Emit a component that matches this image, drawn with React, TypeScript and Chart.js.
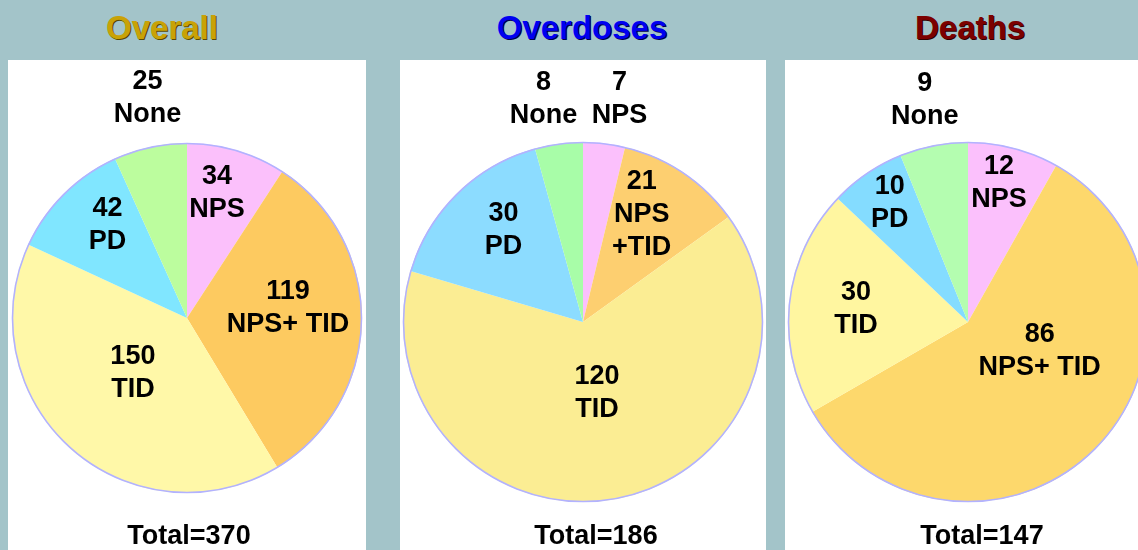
import React, { useEffect, useRef } from "react";
import { Chart, registerables } from "chart.js";

Chart.register(...registerables);

// ---- data ----
const categories = ["NPS", "NPS+ TID", "TID", "PD", "None"];
const overallValues = [34, 119, 150, 42, 25];
const overdoseValues = [7, 21, 120, 30, 8];
const deathValues = [12, 86, 30, 10, 9];
const overallLabels = ["NPS", "NPS+ TID", "TID", "PD", "None"];
const overdoseLabels = ["NPS", "NPS\n+TID", "TID", "PD", "None"];
const deathLabels = ["NPS", "NPS+ TID", "TID", "PD", "None"];
const chartTitles = ["Overall", "Overdoses", "Deaths"];

// ---- styles / placement ----
const FONT = '"Liberation Sans", Arial, Helvetica, sans-serif';
const BG = "#a3c4c9";

type PanelCfg = {
  title: string;
  titleColor: string;
  titleShadow: string;
  titleX: number;
  totalX: number;
  left: number;
  width: number;
  padding: { left: number; right: number; top: number; bottom: number };
  values: number[];
  labels: string[];
  colors: string[];
  placement: [number, number][]; // [radius fraction, angle offset deg]
};

const panels: PanelCfg[] = [
  {
    title: chartTitles[0],
    titleColor: "#c9a206",
    titleShadow: "1px 1px 0 #5a4a00",
    titleX: 162,
    totalX: 189,
    left: 8,
    width: 358,
    padding: { left: 4, right: 4, top: 83, bottom: 57 },
    values: overallValues,
    labels: overallLabels,
    colors: ["#fbc0fb", "#fdca60", "#fff8a8", "#80e6ff", "#bcfd9e"],
    placement: [
      [0.732, -3],
      [0.58, -6.7],
      [0.44, 2.8],
      [0.7, 4.3],
      [1.277, 2],
    ],
  },
  {
    title: chartTitles[1],
    titleColor: "#0000f0",
    titleShadow: "1px 1px 0 #00004a",
    titleX: 582,
    totalX: 596,
    left: 400,
    width: 366,
    padding: { left: 3, right: 3, top: 82, bottom: 48 },
    values: overdoseValues,
    labels: overdoseLabels,
    colors: ["#fbc0fc", "#fdcf70", "#fbed93", "#8cdcff", "#a8fda8"],
    placement: [
      [1.255, 2.5],
      [0.68, -5.2],
      [0.4, -1.5],
      [0.675, 3.7],
      [1.258, -2.3],
    ],
  },
  {
    title: chartTitles[2],
    titleColor: "#7c0000",
    titleShadow: "1px 1px 0 #300000",
    titleX: 970,
    totalX: 982,
    left: 785,
    width: 366,
    padding: { left: 3, right: 3, top: 82, bottom: 48 },
    values: deathValues,
    labels: deathLabels,
    colors: ["#fbc0fc", "#fdd86c", "#fff6a0", "#84dcff", "#b4fdb0"],
    placement: [
      [0.79, -2.1],
      [0.43, -22.6],
      [0.626, 0],
      [0.79, 0.9],
      [1.257, 0],
    ],
  },
];

const PANEL_TOP = 60;
const PANEL_H = 490;

function PiePanel({ cfg }: { cfg: PanelCfg }) {
  const ref = useRef<HTMLCanvasElement | null>(null);

  useEffect(() => {
    if (!ref.current) return;
    const outlinePlugin = {
      id: "outlineAndLabels",
      afterDatasetsDraw(chart: any) {
        const ctx = chart.ctx as CanvasRenderingContext2D;
        const meta = chart.getDatasetMeta(0);
        const arcs = meta.data as any[];
        if (!arcs.length) return;
        const a0 = arcs[0];
        // outline
        ctx.save();
        ctx.beginPath();
        ctx.arc(a0.x, a0.y, a0.outerRadius - 0.5, 0, Math.PI * 2);
        ctx.strokeStyle = "#b2b2ff";
        ctx.lineWidth = 1.6;
        ctx.stroke();
        ctx.restore();
        // labels
        ctx.save();
        ctx.font = `bold 27px ${FONT}`;
        ctx.fillStyle = "#000";
        ctx.textAlign = "center";
        ctx.textBaseline = "middle";
        const lh = 33;
        arcs.forEach((arc, i) => {
          const [frac, off] = cfg.placement[i];
          const mid = (arc.startAngle + arc.endAngle) / 2 + (off * Math.PI) / 180;
          const r = frac * arc.outerRadius;
          const px = arc.x + Math.cos(mid) * r;
          const py = arc.y + Math.sin(mid) * r;
          const lines = [String(cfg.values[i]), ...cfg.labels[i].split("\n")];
          lines.forEach((ln, j) => {
            ctx.fillText(ln, px, py + (j - (lines.length - 1) / 2) * lh);
          });
        });
        ctx.restore();
      },
    };

    const chart = new Chart(ref.current, {
      type: "pie",
      data: {
        labels: categories,
        datasets: [
          {
            data: cfg.values,
            backgroundColor: cfg.colors,
            borderWidth: 0,
            hoverOffset: 0,
          },
        ],
      },
      options: {
        responsive: false,
        animation: false,
        events: [],
        layout: { padding: cfg.padding },
        plugins: {
          legend: { display: false },
          tooltip: { enabled: false },
          title: { display: false },
        },
      },
      plugins: [outlinePlugin],
    });
    return () => chart.destroy();
  }, [cfg]);

  const total = cfg.values.reduce((a, b) => a + b, 0);

  return (
    <>
      <div
        style={{
          position: "absolute",
          left: cfg.left,
          top: PANEL_TOP,
          width: cfg.width,
          height: PANEL_H,
          background: "#ffffff",
        }}
      >
        <canvas
          ref={ref}
          width={cfg.width}
          height={PANEL_H}
          style={{ display: "block", width: cfg.width, height: PANEL_H }}
        />
      </div>
      <div
        style={{
          position: "absolute",
          left: cfg.titleX,
          top: 11,
          transform: "translateX(-50%)",
          whiteSpace: "nowrap",
          font: `bold 33px/33px ${FONT}`,
          color: cfg.titleColor,
          textShadow: cfg.titleShadow,
        }}
      >
        {cfg.title}
      </div>
      <div
        style={{
          position: "absolute",
          left: cfg.totalX,
          top: 522,
          transform: "translateX(-50%)",
          whiteSpace: "nowrap",
          font: `bold 27px/27px ${FONT}`,
          color: "#000",
        }}
      >
        {`Total=${total}`}
      </div>
    </>
  );
}

export default function App() {
  return (
    <div
      style={{
        position: "absolute",
        left: 0,
        top: 0,
        width: 1138,
        height: 550,
        overflow: "hidden",
        background: BG,
        fontFamily: FONT,
      }}
    >
      {panels.map((p, i) => (
        <PiePanel key={i} cfg={p} />
      ))}
    </div>
  );
}
